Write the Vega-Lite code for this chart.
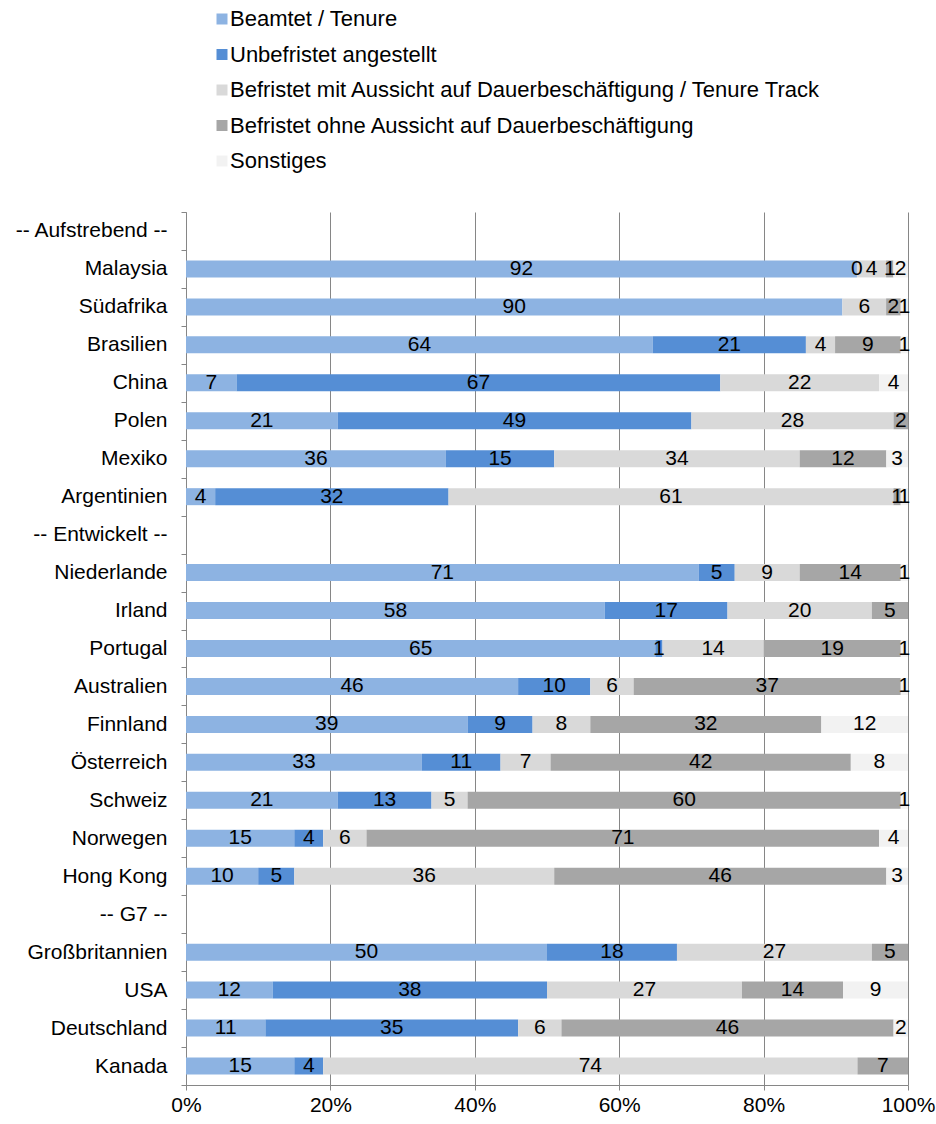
{
  "$schema": "https://vega.github.io/schema/vega-lite/v6.json",
  "autosize": "none",
  "width": 722,
  "height": 873,
  "padding": {"left": 186, "top": 212, "right": 28, "bottom": 39},
  "background": "white",
  "config": {
    "font": "Liberation Sans",
    "view": {"stroke": null},
    "axis": {"labelFont": "Liberation Sans", "labelFontSize": 21, "labelColor": "#000000", "titleFont": "Liberation Sans"},
    "legend": {"labelFont": "Liberation Sans"}
  },
  "datasets": {
    "Typen": [
      {"Typ": "Beamtet / Tenure", "Rang": 1},
      {"Typ": "Unbefristet angestellt", "Rang": 2},
      {"Typ": "Befristet mit Aussicht auf Dauerbeschäftigung / Tenure  Track", "Rang": 3},
      {"Typ": "Befristet ohne Aussicht auf Dauerbeschäftigung", "Rang": 4},
      {"Typ": "Sonstiges", "Rang": 5}
    ]
  },
  "data": {
    "values": [
      {"Land": "Malaysia", "Typ": "Beamtet / Tenure", "Wert": 92},
      {"Land": "Malaysia", "Typ": "Unbefristet angestellt", "Wert": 0},
      {"Land": "Malaysia", "Typ": "Befristet mit Aussicht auf Dauerbeschäftigung / Tenure  Track", "Wert": 4},
      {"Land": "Malaysia", "Typ": "Befristet ohne Aussicht auf Dauerbeschäftigung", "Wert": 1},
      {"Land": "Malaysia", "Typ": "Sonstiges", "Wert": 2},
      {"Land": "Südafrika", "Typ": "Beamtet / Tenure", "Wert": 90},
      {"Land": "Südafrika", "Typ": "Befristet mit Aussicht auf Dauerbeschäftigung / Tenure  Track", "Wert": 6},
      {"Land": "Südafrika", "Typ": "Befristet ohne Aussicht auf Dauerbeschäftigung", "Wert": 2},
      {"Land": "Südafrika", "Typ": "Sonstiges", "Wert": 1},
      {"Land": "Brasilien", "Typ": "Beamtet / Tenure", "Wert": 64},
      {"Land": "Brasilien", "Typ": "Unbefristet angestellt", "Wert": 21},
      {"Land": "Brasilien", "Typ": "Befristet mit Aussicht auf Dauerbeschäftigung / Tenure  Track", "Wert": 4},
      {"Land": "Brasilien", "Typ": "Befristet ohne Aussicht auf Dauerbeschäftigung", "Wert": 9},
      {"Land": "Brasilien", "Typ": "Sonstiges", "Wert": 1},
      {"Land": "China", "Typ": "Beamtet / Tenure", "Wert": 7},
      {"Land": "China", "Typ": "Unbefristet angestellt", "Wert": 67},
      {"Land": "China", "Typ": "Befristet mit Aussicht auf Dauerbeschäftigung / Tenure  Track", "Wert": 22},
      {"Land": "China", "Typ": "Sonstiges", "Wert": 4},
      {"Land": "Polen", "Typ": "Beamtet / Tenure", "Wert": 21},
      {"Land": "Polen", "Typ": "Unbefristet angestellt", "Wert": 49},
      {"Land": "Polen", "Typ": "Befristet mit Aussicht auf Dauerbeschäftigung / Tenure  Track", "Wert": 28},
      {"Land": "Polen", "Typ": "Befristet ohne Aussicht auf Dauerbeschäftigung", "Wert": 2},
      {"Land": "Mexiko", "Typ": "Beamtet / Tenure", "Wert": 36},
      {"Land": "Mexiko", "Typ": "Unbefristet angestellt", "Wert": 15},
      {"Land": "Mexiko", "Typ": "Befristet mit Aussicht auf Dauerbeschäftigung / Tenure  Track", "Wert": 34},
      {"Land": "Mexiko", "Typ": "Befristet ohne Aussicht auf Dauerbeschäftigung", "Wert": 12},
      {"Land": "Mexiko", "Typ": "Sonstiges", "Wert": 3},
      {"Land": "Argentinien", "Typ": "Beamtet / Tenure", "Wert": 4},
      {"Land": "Argentinien", "Typ": "Unbefristet angestellt", "Wert": 32},
      {"Land": "Argentinien", "Typ": "Befristet mit Aussicht auf Dauerbeschäftigung / Tenure  Track", "Wert": 61},
      {"Land": "Argentinien", "Typ": "Befristet ohne Aussicht auf Dauerbeschäftigung", "Wert": 1},
      {"Land": "Argentinien", "Typ": "Sonstiges", "Wert": 1},
      {"Land": "Niederlande", "Typ": "Beamtet / Tenure", "Wert": 71},
      {"Land": "Niederlande", "Typ": "Unbefristet angestellt", "Wert": 5},
      {"Land": "Niederlande", "Typ": "Befristet mit Aussicht auf Dauerbeschäftigung / Tenure  Track", "Wert": 9},
      {"Land": "Niederlande", "Typ": "Befristet ohne Aussicht auf Dauerbeschäftigung", "Wert": 14},
      {"Land": "Niederlande", "Typ": "Sonstiges", "Wert": 1},
      {"Land": "Irland", "Typ": "Beamtet / Tenure", "Wert": 58},
      {"Land": "Irland", "Typ": "Unbefristet angestellt", "Wert": 17},
      {"Land": "Irland", "Typ": "Befristet mit Aussicht auf Dauerbeschäftigung / Tenure  Track", "Wert": 20},
      {"Land": "Irland", "Typ": "Befristet ohne Aussicht auf Dauerbeschäftigung", "Wert": 5},
      {"Land": "Portugal", "Typ": "Beamtet / Tenure", "Wert": 65},
      {"Land": "Portugal", "Typ": "Unbefristet angestellt", "Wert": 1},
      {"Land": "Portugal", "Typ": "Befristet mit Aussicht auf Dauerbeschäftigung / Tenure  Track", "Wert": 14},
      {"Land": "Portugal", "Typ": "Befristet ohne Aussicht auf Dauerbeschäftigung", "Wert": 19},
      {"Land": "Portugal", "Typ": "Sonstiges", "Wert": 1},
      {"Land": "Australien", "Typ": "Beamtet / Tenure", "Wert": 46},
      {"Land": "Australien", "Typ": "Unbefristet angestellt", "Wert": 10},
      {"Land": "Australien", "Typ": "Befristet mit Aussicht auf Dauerbeschäftigung / Tenure  Track", "Wert": 6},
      {"Land": "Australien", "Typ": "Befristet ohne Aussicht auf Dauerbeschäftigung", "Wert": 37},
      {"Land": "Australien", "Typ": "Sonstiges", "Wert": 1},
      {"Land": "Finnland", "Typ": "Beamtet / Tenure", "Wert": 39},
      {"Land": "Finnland", "Typ": "Unbefristet angestellt", "Wert": 9},
      {"Land": "Finnland", "Typ": "Befristet mit Aussicht auf Dauerbeschäftigung / Tenure  Track", "Wert": 8},
      {"Land": "Finnland", "Typ": "Befristet ohne Aussicht auf Dauerbeschäftigung", "Wert": 32},
      {"Land": "Finnland", "Typ": "Sonstiges", "Wert": 12},
      {"Land": "Österreich", "Typ": "Beamtet / Tenure", "Wert": 33},
      {"Land": "Österreich", "Typ": "Unbefristet angestellt", "Wert": 11},
      {"Land": "Österreich", "Typ": "Befristet mit Aussicht auf Dauerbeschäftigung / Tenure  Track", "Wert": 7},
      {"Land": "Österreich", "Typ": "Befristet ohne Aussicht auf Dauerbeschäftigung", "Wert": 42},
      {"Land": "Österreich", "Typ": "Sonstiges", "Wert": 8},
      {"Land": "Schweiz", "Typ": "Beamtet / Tenure", "Wert": 21},
      {"Land": "Schweiz", "Typ": "Unbefristet angestellt", "Wert": 13},
      {"Land": "Schweiz", "Typ": "Befristet mit Aussicht auf Dauerbeschäftigung / Tenure  Track", "Wert": 5},
      {"Land": "Schweiz", "Typ": "Befristet ohne Aussicht auf Dauerbeschäftigung", "Wert": 60},
      {"Land": "Schweiz", "Typ": "Sonstiges", "Wert": 1},
      {"Land": "Norwegen", "Typ": "Beamtet / Tenure", "Wert": 15},
      {"Land": "Norwegen", "Typ": "Unbefristet angestellt", "Wert": 4},
      {"Land": "Norwegen", "Typ": "Befristet mit Aussicht auf Dauerbeschäftigung / Tenure  Track", "Wert": 6},
      {"Land": "Norwegen", "Typ": "Befristet ohne Aussicht auf Dauerbeschäftigung", "Wert": 71},
      {"Land": "Norwegen", "Typ": "Sonstiges", "Wert": 4},
      {"Land": "Hong Kong", "Typ": "Beamtet / Tenure", "Wert": 10},
      {"Land": "Hong Kong", "Typ": "Unbefristet angestellt", "Wert": 5},
      {"Land": "Hong Kong", "Typ": "Befristet mit Aussicht auf Dauerbeschäftigung / Tenure  Track", "Wert": 36},
      {"Land": "Hong Kong", "Typ": "Befristet ohne Aussicht auf Dauerbeschäftigung", "Wert": 46},
      {"Land": "Hong Kong", "Typ": "Sonstiges", "Wert": 3},
      {"Land": "Großbritannien", "Typ": "Beamtet / Tenure", "Wert": 50},
      {"Land": "Großbritannien", "Typ": "Unbefristet angestellt", "Wert": 18},
      {"Land": "Großbritannien", "Typ": "Befristet mit Aussicht auf Dauerbeschäftigung / Tenure  Track", "Wert": 27},
      {"Land": "Großbritannien", "Typ": "Befristet ohne Aussicht auf Dauerbeschäftigung", "Wert": 5},
      {"Land": "USA", "Typ": "Beamtet / Tenure", "Wert": 12},
      {"Land": "USA", "Typ": "Unbefristet angestellt", "Wert": 38},
      {"Land": "USA", "Typ": "Befristet mit Aussicht auf Dauerbeschäftigung / Tenure  Track", "Wert": 27},
      {"Land": "USA", "Typ": "Befristet ohne Aussicht auf Dauerbeschäftigung", "Wert": 14},
      {"Land": "USA", "Typ": "Sonstiges", "Wert": 9},
      {"Land": "Deutschland", "Typ": "Beamtet / Tenure", "Wert": 11},
      {"Land": "Deutschland", "Typ": "Unbefristet angestellt", "Wert": 35},
      {"Land": "Deutschland", "Typ": "Befristet mit Aussicht auf Dauerbeschäftigung / Tenure  Track", "Wert": 6},
      {"Land": "Deutschland", "Typ": "Befristet ohne Aussicht auf Dauerbeschäftigung", "Wert": 46},
      {"Land": "Deutschland", "Typ": "Sonstiges", "Wert": 2},
      {"Land": "Kanada", "Typ": "Beamtet / Tenure", "Wert": 15},
      {"Land": "Kanada", "Typ": "Unbefristet angestellt", "Wert": 4},
      {"Land": "Kanada", "Typ": "Befristet mit Aussicht auf Dauerbeschäftigung / Tenure  Track", "Wert": 74},
      {"Land": "Kanada", "Typ": "Befristet ohne Aussicht auf Dauerbeschäftigung", "Wert": 7}
    ]
  },
  "transform": [
    {"lookup": "Typ", "from": {"data": {"name": "Typen"}, "key": "Typ", "fields": ["Rang"]}},
    {"stack": "Wert", "groupby": ["Land"], "sort": [{"field": "Rang", "order": "ascending"}], "offset": "normalize", "as": ["x0", "x1"]}
  ],
  "encoding": {
    "y": {
      "field": "Land",
      "type": "nominal",
      "title": null,
      "scale": {
        "domain": ["-- Aufstrebend --", "Malaysia", "Südafrika", "Brasilien", "China", "Polen", "Mexiko", "Argentinien", "-- Entwickelt --", "Niederlande", "Irland", "Portugal", "Australien", "Finnland", "Österreich", "Schweiz", "Norwegen", "Hong Kong", "-- G7 --", "Großbritannien", "USA", "Deutschland", "Kanada"],
        "paddingInner": 0,
        "paddingOuter": 0
      },
      "axis": {
        "domainColor": "#868686",
        "tickColor": "#868686",
        "tickBand": "extent",
        "tickSize": 5,
        "labelPadding": 14,
        "grid": false
      }
    }
  },
  "layer": [
    {
      "mark": {"type": "bar", "size": 17},
      "encoding": {
        "x": {
          "field": "x0",
          "type": "quantitative",
          "title": null,
          "scale": {"domain": [0, 1], "nice": false},
          "axis": {
            "values": [0, 0.2, 0.4, 0.6, 0.8, 1],
            "format": ".0%",
            "labelFlush": false,
            "grid": true,
            "gridColor": "#868686",
            "domainColor": "#868686",
            "tickColor": "#868686",
            "tickSize": 5,
            "labelPadding": 4
          }
        },
        "x2": {"field": "x1"},
        "color": {
          "field": "Typ",
          "type": "nominal",
          "sort": ["Beamtet / Tenure", "Unbefristet angestellt", "Befristet mit Aussicht auf Dauerbeschäftigung / Tenure  Track", "Befristet ohne Aussicht auf Dauerbeschäftigung", "Sonstiges"],
          "scale": {
            "domain": ["Beamtet / Tenure", "Unbefristet angestellt", "Befristet mit Aussicht auf Dauerbeschäftigung / Tenure  Track", "Befristet ohne Aussicht auf Dauerbeschäftigung", "Sonstiges"],
            "range": ["#8DB3E2", "#558ED5", "#D9D9D9", "#A6A6A6", "#F2F2F2"]
          },
          "legend": {
            "title": null,
            "orient": "none",
            "legendX": 25,
            "legendY": -204,
            "symbolType": "square",
            "symbolSize": 121,
            "symbolStrokeWidth": 0,
            "labelFontSize": 22,
            "labelColor": "#000000",
            "labelOffset": -3,
            "rowPadding": 13.5,
            "padding": 0,
            "labelLimit": 800
          }
        }
      }
    },
    {
      "transform": [
        {"fold": ["x0", "x1"], "as": ["Kante", "Pos"]},
        {"aggregate": [{"op": "mean", "field": "Pos", "as": "Mitte"}], "groupby": ["Land", "Typ", "Wert"]}
      ],
      "mark": {"type": "text", "fontSize": 21, "color": "#000000", "baseline": "middle", "align": "center"},
      "encoding": {
        "x": {"field": "Mitte", "type": "quantitative", "title": null},
        "text": {"field": "Wert", "type": "quantitative"}
      }
    }
  ]
}
